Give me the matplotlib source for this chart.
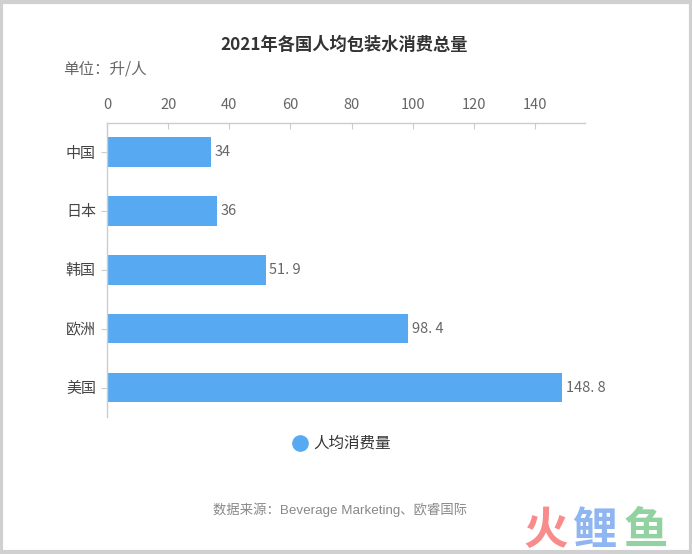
import matplotlib
matplotlib.use("Agg")
import matplotlib.pyplot as plt
from matplotlib.patches import Rectangle

plt.rcParams['font.family'] = ['Noto Sans CJK SC', 'DejaVu Sans']

categories = ['中国', '日本', '韩国', '欧洲', '美国']
values = [34, 36, 51.9, 98.4, 148.8]
value_labels = ['34', '36', '51. 9', '98. 4', '148. 8']
xticks = [0, 20, 40, 60, 80, 100, 120, 140]
series_name = '人均消费量'
title = '2021年各国人均包装水消费总量'
unit = '单位：升/人'
source = '数据来源：Beverage Marketing、欧睿国际'

bar_color = '#57aaf2'
axis_color = '#cccccc'

fig = plt.figure(figsize=(6.92, 5.54), dpi=100)
ax = fig.add_axes([107/692, 1-417/554, (584.7-107)/692, (417-122.7)/554])

y = list(range(len(categories)))
ax.barh(y, values, height=0.5, color=bar_color, label=series_name)
ax.set_ylim(len(categories)-0.5, -0.5)
ax.set_xlim(0, 156.2)
ax.set_yticks(y)
ax.set_yticklabels(categories, fontsize=10.8, color='#444444')
ax.set_xticks(xticks)
ax.set_xticklabels([str(t) for t in xticks], fontsize=10.5, color='#666666')
ax.xaxis.tick_top()
ax.tick_params(axis='x', direction='in', length=4, color=axis_color, pad=8)
ax.tick_params(axis='y', direction='out', length=4, color=axis_color, pad=4)
for s in ['right', 'bottom']:
    ax.spines[s].set_visible(False)
for s in ['top', 'left']:
    ax.spines[s].set_color(axis_color)
    ax.spines[s].set_linewidth(1)

for yi, v, lab in zip(y, values, value_labels):
    ax.text(v + 1.2, yi, lab, va='center', ha='left', fontsize=10.5, color='#666666')

fig.text(344/692, 1-45/554, title, ha='center', va='center', fontsize=12.4,
         fontweight='bold', color='#333333')
fig.text(63/692, 1-69/554, unit, ha='left', va='center', fontsize=11.2, color='#666666')

# legend
fig.lines.append(plt.Line2D([300/692], [1-443/554], marker='o', markersize=11,
                            color=bar_color, transform=fig.transFigure, linestyle='none'))
fig.text(313/692, 1-443/554, series_name, ha='left', va='center', fontsize=11.2, color='#333333')

fig.text(213/692, 1-510/554, source, ha='left', va='center', fontsize=9.6, color='#888888',
         family=['Liberation Sans', 'Noto Sans CJK SC'])

# watermark
fig.text(546/692, 1-531/554, '火', ha='center', va='center', fontsize=32, fontweight='heavy', color='#f88c8c')
fig.text(594/692, 1-531/554, '鲤', ha='center', va='center', fontsize=32, fontweight='heavy', color='#8fb6f0')
fig.text(646/692, 1-531/554, '鱼', ha='center', va='center', fontsize=32, fontweight='heavy', color='#92d2a0')

# border
fig.patches.append(Rectangle((0.002, 0.003), 0.996, 0.994, transform=fig.transFigure,
                             fill=False, edgecolor='#d0d0d0', linewidth=3))

fig.savefig('out.png', dpi=100)
